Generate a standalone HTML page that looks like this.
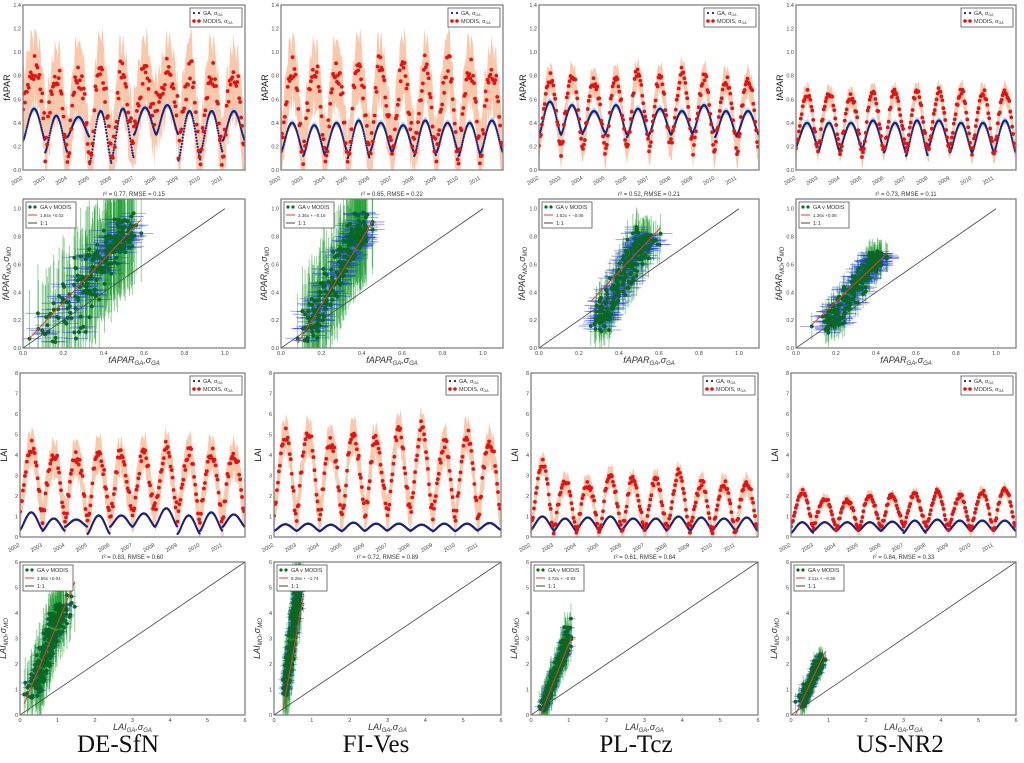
<!DOCTYPE html>
<html><head><meta charset="utf-8">
<style>
body{margin:0;background:#fff;width:1024px;height:763px;overflow:hidden}
svg{display:block}
text{font-family:"Liberation Sans",sans-serif}
.site{font-family:"Liberation Serif",serif;font-size:25px;fill:#111}
</style></head>
<body>
<svg id="fig" width="1024" height="763" viewBox="0 0 1024 763" xmlns="http://www.w3.org/2000/svg">
<text class="site" x="118" y="752" text-anchor="middle">DE-SfN</text>
<text class="site" x="376" y="752" text-anchor="middle">FI-Ves</text>
<text class="site" x="636" y="752" text-anchor="middle">PL-Tcz</text>
<text class="site" x="900" y="752" text-anchor="middle">US-NR2</text>
</svg>
<script>
// ---- data ----
const sites = ["DE-SfN","FI-Ves","PL-Tcz","US-NR2"];
const years = [2002,2003,2004,2005,2006,2007,2008,2009,2010,2011];
const faparGAPeak   = [[0.52,0.46,0.45,0.50,0.52,0.53,0.55,0.50,0.50,0.50],[0.40,0.38,0.40,0.42,0.40,0.38,0.42,0.40,0.40,0.42],[0.58,0.55,0.50,0.55,0.52,0.52,0.50,0.55,0.50,0.50],[0.40,0.40,0.40,0.42,0.40,0.42,0.42,0.40,0.40,0.42]];
const faparGATrough = [[0.25,0.15,0.28,0.05,0.10,0.30,0.30,0.08,0.15,0.25],[0.15,0.12,0.15,0.10,0.15,0.15,0.12,0.15,0.12,0.15],[0.30,0.30,0.32,0.30,0.28,0.30,0.30,0.32,0.28,0.30],[0.20,0.15,0.18,0.18,0.15,0.12,0.18,0.15,0.15,0.15]];
const faparMOPeak   = [[0.86,0.82,0.82,0.85,0.82,0.82,0.82,0.82,0.82,0.84],[0.86,0.88,0.86,0.88,0.88,0.86,0.86,0.88,0.86,0.86],[0.78,0.82,0.76,0.78,0.82,0.78,0.82,0.78,0.76,0.78],[0.65,0.66,0.63,0.66,0.66,0.66,0.66,0.66,0.66,0.68]];
const faparMOTrough = [[0.50,0.15,0.12,0.10,0.12,0.35,0.50,0.15,0.12,0.15],[0.15,0.12,0.12,0.10,0.15,0.12,0.12,0.12,0.12,0.15],[0.20,0.15,0.20,0.15,0.20,0.15,0.20,0.15,0.20,0.15],[0.18,0.18,0.15,0.12,0.18,0.15,0.15,0.18,0.15,0.15]];
const faparMOSigma  = [0.35,0.32,0.14,0.10];
const laiGAPeak   = [[1.2,0.9,0.85,1.05,1.05,1.15,1.4,1.05,1.2,1.1],[0.62,0.65,0.6,0.7,0.65,0.65,0.6,0.65,0.65,0.68],[1.0,0.9,0.95,1.0,0.9,0.9,1.0,0.95,0.9,0.95],[0.72,0.72,0.72,0.72,0.75,0.8,0.85,0.8,0.8,0.8]];
const laiGATrough = [[0.35,0.3,0.5,0.15,0.5,0.5,0.5,0.15,0.3,0.5],[0.3,0.3,0.28,0.3,0.3,0.32,0.3,0.28,0.3,0.35],[0.35,0.3,0.35,0.3,0.35,0.3,0.35,0.3,0.35,0.3],[0.2,0.3,0.3,0.3,0.3,0.2,0.3,0.3,0.3,0.3]];
const laiMOPeak   = [[4.4,4.1,4.0,4.1,4.0,4.1,4.3,4.1,4.1,4.1],[5.0,5.2,4.7,5.0,4.7,5.2,5.3,4.5,5.0,4.7],[3.6,2.8,2.6,3.0,2.8,2.8,3.1,2.6,2.6,2.7],[2.2,1.9,1.8,2.0,2.0,2.1,2.2,2.0,2.2,2.4]];
const laiMOTrough = [[1.2,0.9,0.9,0.9,1.0,1.0,1.2,0.9,0.9,1.0],[1.0,1.0,1.0,1.2,1.0,1.0,1.0,1.0,1.0,1.1],[0.4,0.3,0.3,0.3,0.3,0.3,0.3,0.3,0.3,0.3],[0.5,0.5,0.4,0.4,0.5,0.5,0.4,0.4,0.4,0.4]];
const laiMOSigma  = [1.0,1.0,0.6,0.35];
const noise = [0.3,-0.8,0.5,-0.2,0.9,-0.6,0.1,-0.9,0.7,-0.4,0.2,0.8,-0.7,0.4,-0.1,0.6,-0.5,1.0,-0.3,0.0,-1.0,0.5,-0.6,0.3,0.9,-0.2,-0.8,0.4,0.7,-0.5,0.1,-0.9,0.6,-0.3,0.8,-0.1,0.2];
const faparFitSlope = [1.54,2.35,1.52,1.36];
const faparFitInt   = [0.02,-0.16,-0.06,0.06];
const laiFitSlope = [3.55,8.28,3.72,3.11];
const laiFitInt   = [0.04,-1.74,-0.93,-0.36];
const faparStats = ["r² = 0.77, RMSE = 0.15","r² = 0.65, RMSE = 0.22","r² = 0.52, RMSE = 0.21","r² = 0.73, RMSE = 0.11"];
const laiStats   = ["r² = 0.83, RMSE = 0.60","r² = 0.72, RMSE = 0.89","r² = 0.61, RMSE = 0.84","r² = 0.84, RMSE = 0.33"];
const faparTSTicks = [0,0.2,0.4,0.6,0.8,1.0,1.2,1.4];
const laiTSTicks = [0,1,2,3,4,5,6,7,8];
const faparScTicks = [0,0.2,0.4,0.6,0.8,1.0];
const laiScTicks = [0,1,2,3,4,5,6];

// ---- layout ----
const NS="http://www.w3.org/2000/svg";
const svg=document.getElementById('fig');
const colL1=[23,281,539,796], colR1=[245,503,759,1016];
const colL2=[20,274,531,791], colR2=[245,501,758,1016];
let clipId=0;
function el(tag,attrs,parent){const e=document.createElementNS(NS,tag);for(const k in attrs)e.setAttribute(k,attrs[k]);(parent||svg).appendChild(e);return e;}
function fmt(v,d){return v.toFixed(d);}
function season(si,i,peak,trough){const y=Math.floor(i/46),ph=(i%46)/46;const s=Math.pow(0.5-0.5*Math.cos(2*Math.PI*ph),0.7);return trough[si][y]+(peak[si][y]-trough[si][y])*s;}
function nz(i){return noise[i%37]*0.6+noise[(i*7+3)%37]*0.5;}

function frame(g,x0,y0,x1,y1){
  const r=el('rect',{x:x0,y:y0,width:x1-x0,height:y1-y0,fill:'none',stroke:'#777','stroke-width':1.2},g);
  
  
}
function makeClip(x0,y0,x1,y1){const id='c'+(clipId++);const cp=el('clipPath',{id:id});el('rect',{x:x0,y:y0,width:x1-x0,height:y1-y0},cp);return id;}

function yTicks(g,ticks,sy,x0,d){
  ticks.forEach(t=>{const tx=el('text',{x:x0-2,y:sy(t)+2,'font-size':5.5,fill:'#444','text-anchor':'end'},g);tx.textContent=fmt(t,d);
    });
}

function timeSeries(si,x0,x1,y0,y1,ymax,ticks,d,label,gaPk,gaTr,moPk,moTr,moSig,gaSig){
  const g=el('g',{});
  
  
  const N=460;
  const sx=i=>x0+(x1-x0)*i/N, sy=v=>y1-(y1-y0)*Math.max(0,Math.min(v,ymax))/ymax;
  const cid=makeClip(x0,y0,x1,y1);
  const pg=el('g',{'clip-path':'url(#'+cid+')'},g);
  let up=[],lo=[];
  for(let i=0;i<N;i+=2){const m=season(si,i,moPk,moTr)+nz(i)*moSig*0.3;up.push(sx(i)+','+sy(m+moSig*(0.8+0.3*noise[(i*3)%37])));lo.unshift(sx(i)+','+sy(m-moSig*(0.9+0.3*noise[(i*5)%37])));}
  const band=el('polygon',{points:up.concat(lo).join(' '),fill:'#fbb58f',opacity:0.75},pg);
  
  up=[];lo=[];
  for(let i=0;i<N;i++){const m=season(si,i,gaPk,gaTr);up.push(sx(i)+','+sy(m+gaSig));lo.unshift(sx(i)+','+sy(m-gaSig));}
  const gb=el('polygon',{points:up.concat(lo).join(' '),fill:'#9cc8ef',opacity:0.7},pg);
  
  for(let i=0;i<N;i++){const c=el('circle',{cx:sx(i),cy:sy(season(si,i,gaPk,gaTr)),r:1.1,fill:'#1a237e'},pg);
    }
  for(let i=0;i<N;i+=2){const m=season(si,i,moPk,moTr)+nz(i)*moSig*0.45;const c=el('circle',{cx:sx(i),cy:sy(m),r:1.9,fill:'#e8110f'},pg);
    }
  frame(g,x0,y0,x1,y1);
  yTicks(g,ticks,sy,x0,d);
  years.forEach((yr,k)=>{const xx=x0+(x1-x0)*k/10;const t=el('text',{x:xx,y:y1+9,'font-size':5.5,fill:'#444','text-anchor':'end',transform:'rotate(-30 '+xx+' '+(y1+9)+')'},g);t.textContent=yr;
    });
  const yl=el('text',{x:x0-13,y:(y0+y1)/2,'font-size':9,fill:'#222','text-anchor':'middle',transform:'rotate(-90 '+(x0-13)+' '+((y0+y1)/2)+')'},g);yl.textContent=label;
  
  const lg=el('g',{},g);
  const lx=x1-55,ly=y0+3;
  el('rect',{x:lx,y:ly,width:52,height:19,fill:'#fff',stroke:'#555','stroke-width':0.8},lg);
  [['#1a237e',1.1,'GA, σ'],['#e8110f',1.8,'MODIS, σ']].forEach((e,k)=>{
    el('circle',{cx:lx+4,cy:ly+5+k*8,r:e[1],fill:e[0]},lg);el('circle',{cx:lx+9,cy:ly+5+k*8,r:e[1],fill:e[0]},lg);
    const t=el('text',{x:lx+13,y:ly+7+k*8,'font-size':5.5,fill:'#333'},lg);t.textContent=e[2];
    const s=el('tspan',{'font-size':3.5,dy:1},t);s.textContent='GA';
    });
}

function scatter(si,x0,x1,y0,y1,xmax,ymax,ticks,d,label,gaPk,gaTr,moPk,moTr,sigY,sigX,slope,icpt,stats){
  const g=el('g',{});
  
  
  const sx=v=>x0+(x1-x0)*v/xmax, sy=v=>y1-(y1-y0)*v/ymax;
  const cid=makeClip(x0,y0,x1,y1);
  const pg=el('g',{'clip-path':'url(#'+cid+')'},g);
  const N=460,pts=[];
  for(let i=0;i<N;i+=2){const gx=season(si,i,gaPk,gaTr)+nz(i*5+2)*sigX*0.9;const my=season(si,i,moPk,moTr)+nz(i)*sigY*0.45;pts.push([Math.max(0.01,gx),Math.max(0,my)]);}
  pts.forEach(p=>{const l=el('line',{x1:sx(p[0]),x2:sx(p[0]),y1:sy(p[1]-sigY),y2:sy(p[1]+sigY),stroke:'#1e9e2e','stroke-width':1,opacity:0.45},pg);
    });
  pts.forEach(p=>{const l=el('line',{x1:sx(p[0]-sigX),x2:sx(p[0]+sigX),y1:sy(p[1]),y2:sy(p[1]),stroke:'#2233ee','stroke-width':0.8,opacity:0.55},pg);
    });
  pts.forEach(p=>{const c=el('circle',{cx:sx(p[0]),cy:sy(p[1]),r:1.8,fill:'#0b6b18',stroke:'#063',"stroke-width":0.4},pg);
    });
  let mn=1e9,mx=-1e9;pts.forEach(p=>{mn=Math.min(mn,p[0]);mx=Math.max(mx,p[0]);});
  const fl=el('line',{x1:sx(mn),y1:sy(slope*mn+icpt),x2:sx(mx),y2:sy(slope*mx+icpt),stroke:'#f03a2a','stroke-width':1},pg);
  
  const one=ticks[ticks.length-1];
  const ol=el('line',{x1:sx(0),y1:sy(0),x2:sx(one),y2:sy(one),stroke:'#444','stroke-width':0.8},pg);
  
  frame(g,x0,y0,x1,y1);
  yTicks(g,ticks,sy,x0,d);
  ticks.forEach(t=>{const tx=el('text',{x:sx(t),y:y1+7,'font-size':5.5,fill:'#444','text-anchor':'middle'},g);tx.textContent=fmt(t,d);
    });
  const st=el('text',{x:(x0+x1)/2,y:y0-3,'font-size':6,fill:'#333','text-anchor':'middle'},g);st.textContent=stats;
  
  const xl=el('text',{x:(x0+x1)/2,y:y1+15,'font-size':9,'font-style':'italic','font-family':'Liberation Serif,serif',fill:'#333','text-anchor':'middle'},g);
  xl.innerHTML=label+'<tspan font-size="6" dy="2">GA</tspan><tspan dy="-2">,σ</tspan><tspan font-size="6" dy="2">GA</tspan>';
  
  const yx=x0-14,yy=(y0+y1)/2;
  const yl=el('text',{x:yx,y:yy,'font-size':9,'font-style':'italic','font-family':'Liberation Serif,serif',fill:'#333','text-anchor':'middle',transform:'rotate(-90 '+yx+' '+yy+')'},g);
  yl.innerHTML=label+'<tspan font-size="6" dy="2">MO</tspan><tspan dy="-2">,σ</tspan><tspan font-size="6" dy="2">MO</tspan>';
  
  const lg=el('g',{},g);
  const lx=x0+3,ly=y0+3;
  el('rect',{x:lx,y:ly,width:50,height:26,fill:'#fff',stroke:'#555','stroke-width':0.8},lg);
  el('circle',{cx:lx+4,cy:ly+5,r:1.6,fill:'#0b6b18'},lg);el('circle',{cx:lx+9,cy:ly+5,r:1.6,fill:'#0b6b18'},lg);
  el('line',{x1:lx+2,x2:lx+11,y1:ly+13,y2:ly+13,stroke:'#f03a2a','stroke-width':1},lg);
  el('line',{x1:lx+2,x2:lx+11,y1:ly+21,y2:ly+21,stroke:'#444','stroke-width':1},lg);
  const sign=icpt<0?'+ −':'+';
  const txt=['GA v MODIS',fmt(slope,2)+'x '+sign+fmt(Math.abs(icpt),2),'1:1'];
  txt.forEach((s,k)=>{const t=el('text',{x:lx+14,y:ly+7+k*8,'font-size':k==1?4.5:5.5,fill:'#333','font-family':k==1?'Liberation Serif,serif':'Liberation Sans,sans-serif'},lg);t.textContent=s;
    });
}

for(let s=0;s<4;s++){
  timeSeries(s,colL1[s],colR1[s],5,170,1.4,faparTSTicks,1,'fAPAR',faparGAPeak,faparGATrough,faparMOPeak,faparMOTrough,faparMOSigma[s],0.03);
  scatter(s,colL1[s],colR1[s],199,348,1.1,1.07,faparScTicks,1,'fAPAR',faparGAPeak,faparGATrough,faparMOPeak,faparMOTrough,faparMOSigma[s],0.06,faparFitSlope[s],faparFitInt[s],faparStats[s]);
  timeSeries(s,colL2[s],colR2[s],373,537,8,laiTSTicks,0,'LAI',laiGAPeak,laiGATrough,laiMOPeak,laiMOTrough,laiMOSigma[s],0.06);
  scatter(s,colL2[s],colR2[s],562,715,6,6,laiScTicks,0,'LAI',laiGAPeak,laiGATrough,laiMOPeak,laiMOTrough,laiMOSigma[s],0.12,laiFitSlope[s],laiFitInt[s],laiStats[s]);
}
</script>
</body></html>
